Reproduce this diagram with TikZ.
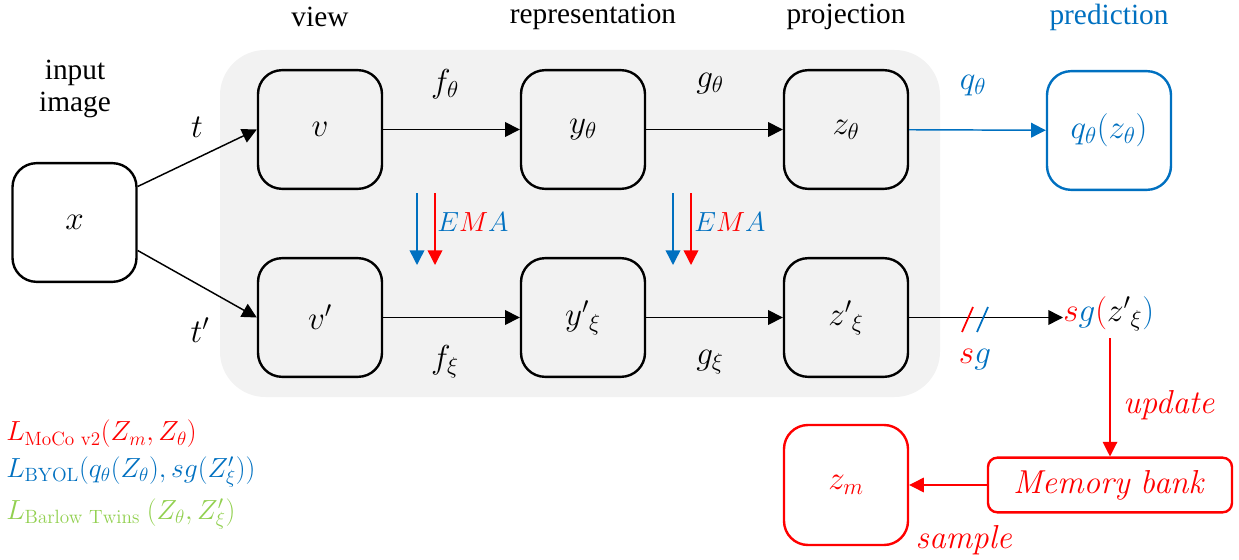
\documentclass[tikz,border=0pt]{standalone}
\usepackage[no-math]{fontspec}
\setmainfont{Liberation Serif}
\usetikzlibrary{arrows.meta,positioning}
\definecolor{myred}{HTML}{FF0000}
\definecolor{myblue}{HTML}{0070C0}
\definecolor{mygreen}{HTML}{92D050}
\definecolor{bggray}{HTML}{F2F2F2}
\tikzset{
  box/.style={draw, line width=1.8pt, rounded corners=18pt, minimum width=93pt, minimum height=89pt, inner sep=0pt, font=\fontsize{24}{28}\selectfont},
  lbl/.style={font=\fontsize{23}{27}\selectfont, inner sep=0pt},
  head/.style={font=\rmfamily\fontsize{22}{26}\selectfont, inner sep=0pt},
  leg/.style={font=\fontsize{20}{24}\selectfont, inner sep=0pt, anchor=west},
  conn/.style={line width=1.1pt, -{Triangle[length=11pt,width=11pt]}},
  ema/.style={line width=1.1pt, -{Triangle[length=11pt,width=11pt]}},
}
\begin{document}
\begin{tikzpicture}[x=0.75pt,y=-0.75pt]
\useasboundingbox (0,0) rectangle (1239,560);
\fill[bggray, rounded corners=34pt] (220,50) rectangle (940,397);
% headings
\node[head] (h1) at (320,17) {view};
\node[head] (h2) at (593,17) {representation};
\node[head] (h3) at (846,17) {projection};
\node[head, text=myblue] (h4) at (1109,17) {prediction};
\node[head, align=center] (h0) at (75,89) {input\\[-2pt]image};
% boxes
\node[box] (x) at (74.5,222.5) {$x$};
\node[box] (v) at (320,129.5) {$v$};
\node[box] (y) at (583,129.5) {$y_\theta$};
\node[box] (z) at (846,129.5) {$z_\theta$};
\node[box, draw=myblue, text=myblue] (q) at (1109,130.5) {$q_\theta(z_\theta)$};
\node[box] (v2) at (320,317.5) {$v'$};
\node[box] (y2) at (583,317.5) {$y'{}_{\xi}$};
\node[box] (z2) at (846,317.5) {$z'{}_{\xi}$};
\node[box, draw=myred, text=myred, minimum height=90pt] (zm) at (846,485) {$z_m$};
\node[box, draw=myred, text=myred, rounded corners=7pt, minimum width=183pt, minimum height=41pt, font=\fontsize{23}{27}\selectfont] (mb) at (1110,485) {$\mathit{Memory\ bank}$};
\node[lbl, anchor=west] (sg) at (1063,314) {$\textcolor{myred}{s}\textcolor{myblue}{g}\textcolor{myred}{(}z'{}_{\xi}\textcolor{myblue}{)}$};
% connectors
\draw[conn] ([yshift=27pt]x.east) -- (v.west);
\draw[conn] ([yshift=-21pt]x.east) -- (v2.west);
\draw[conn] (v) -- (y);
\draw[conn] (y) -- (z);
\draw[conn] (v2) -- (y2);
\draw[conn] (y2) -- (z2);
\draw[conn, draw=myblue, fill=myblue] (z) -- (q);
\draw[conn] (z2.east) -- (z2.east -| sg.west);
\coordinate (mbtop) at (1110,338);
\draw[conn, draw=myred, fill=myred, line width=0.9pt] (mbtop) -- (mb.north);
\draw[conn, draw=myred, fill=myred, line width=0.9pt] (mb.west) -- (zm.east);
% slashes
\coordinate (s1a) at (962,332); \coordinate (s1b) at (973,307);
\coordinate (s2a) at (977,332); \coordinate (s2b) at (988,307);
\draw[myred, line width=1.3pt] (s1a) -- (s1b);
\draw[myblue, line width=1.3pt] (s2a) -- (s2b);
% EMA arrows
\coordinate (e1s) at (417,193); \coordinate (e1e) at (417,265);
\coordinate (e2s) at (435,193); \coordinate (e2e) at (435,265);
\coordinate (e3s) at (673,193); \coordinate (e3e) at (673,265);
\coordinate (e4s) at (691,193); \coordinate (e4e) at (691,265);
\draw[ema, myblue] (e1s) -- (e1e);
\draw[ema, myred] (e2s) -- (e2e);
\draw[ema, myblue] (e3s) -- (e3e);
\draw[ema, myred] (e4s) -- (e4e);
\node[lbl, font=\fontsize{21}{25}\selectfont] (ema1) at (473,222) {$\textcolor{myblue}{E}\textcolor{myred}{M}\textcolor{myblue}{A}$};
\node[lbl, font=\fontsize{21}{25}\selectfont] (ema2) at (730,222) {$\textcolor{myblue}{E}\textcolor{myred}{M}\textcolor{myblue}{A}$};
% edge labels
\node[lbl] (lt) at (197,127) {$t$};
\node[lbl] (lt2) at (200,330) {$t'$};
\node[lbl] (lf1) at (445,84) {$f_\theta$};
\node[lbl] (lg1) at (710,84) {$g_\theta$};
\node[lbl, text=myblue] (lq) at (973,86) {$q_\theta$};
\node[lbl] (lf2) at (445,362) {$f_\xi$};
\node[lbl] (lg2) at (710,362) {$g_\xi$};
\node[lbl] (lsg) at (975,360) {$\textcolor{myred}{s}\textcolor{myblue}{g}$};
\node[lbl, text=myred, font=\fontsize{24}{28}\selectfont] (lup) at (1170,405) {$\mathit{update}$};
\node[lbl, text=myred, font=\fontsize{24}{28}\selectfont] (lsa) at (965,540) {$\mathit{sample}$};
% legend
\node[leg, text=myred] (L1) at (6,434) {$L_{\mathrm{MoCo\ v2}}\bigl(Z_m, Z_\theta\bigr)$};
\node[leg, text=myblue] (L2) at (6,472) {$L_{\mathrm{BYOL}}\Bigl(q_\theta(Z_\theta), sg\bigl(Z'_\xi\bigr)\Bigr)$};
\node[leg, text=mygreen] (L3) at (6,514) {$L_{\mathrm{Barlow\ Twins}}\ \Bigl(Z_\theta, Z'_\xi\Bigr)$};
\end{tikzpicture}
\end{document}
